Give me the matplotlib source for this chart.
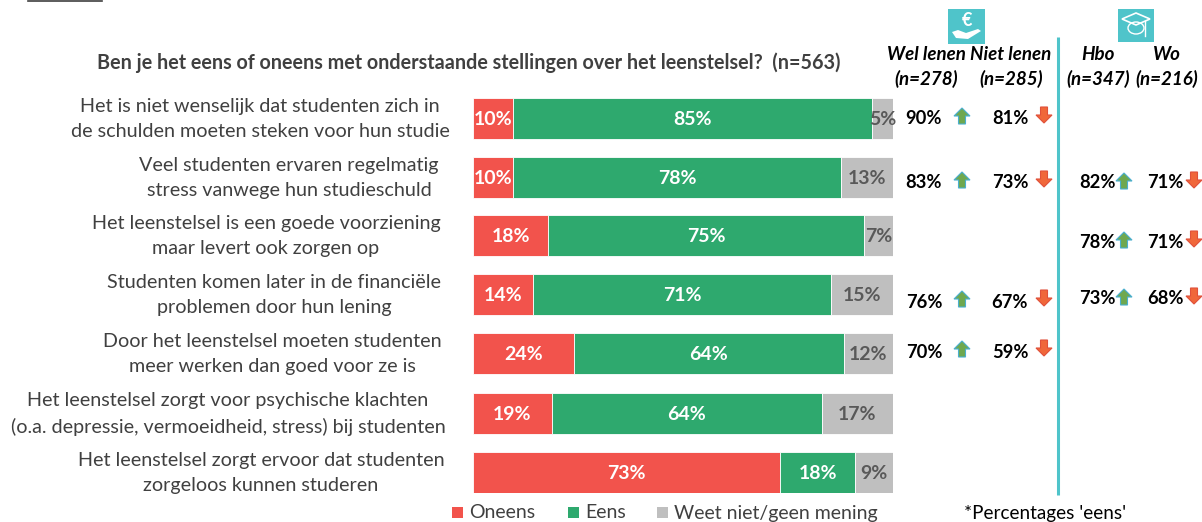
import numpy as np
import matplotlib
matplotlib.use("Agg")
import matplotlib.pyplot as plt
from matplotlib.patches import Polygon, Rectangle, Ellipse

plt.rcParams['font.family'] = ['Lato', 'DejaVu Sans']

# DATA
statements = [
    "Het is niet wenselijk dat studenten zich in\nde schulden moeten steken voor hun studie",
    "Veel studenten ervaren regelmatig\nstress vanwege hun studieschuld",
    "Het leenstelsel is een goede voorziening\nmaar levert ook zorgen op",
    "Studenten komen later in de financiële\nproblemen door hun lening",
    "Door het leenstelsel moeten studenten\nmeer werken dan goed voor ze is",
    "Het leenstelsel zorgt voor psychische klachten\n(o.a. depressie, vermoeidheid, stress) bij studenten",
    "Het leenstelsel zorgt ervoor dat studenten\nzorgeloos kunnen studeren",
]
oneens = [9.6, 9.6, 17.9, 14.3, 24.0, 18.8, 73.1]
eens = [85.4, 77.9, 75.2, 70.9, 64.3, 64.3, 17.9]
weet_niet = [5.0, 12.5, 6.9, 14.8, 11.7, 16.9, 9.0]
oneens_labels = ["10%", "10%", "18%", "14%", "24%", "19%", "73%"]
eens_labels = ["85%", "78%", "75%", "71%", "64%", "64%", "18%"]
weet_labels = ["5%", "13%", "7%", "15%", "12%", "17%", "9%"]

wel_lenen = ["90%", "83%", None, "76%", "70%", None, None]
niet_lenen = ["81%", "73%", None, "67%", "59%", None, None]
hbo = [None, "82%", "78%", "73%", None, None, None]
wo = [None, "71%", "71%", "68%", None, None, None]

title = "Ben je het eens of oneens met onderstaande stellingen over het leenstelsel?  (n=563)"
legend_names = ["Oneens", "Eens", "Weet niet/geen mening"]

RED = "#F2534C"
GREEN = "#2EA96E"
GRAY = "#BFBFBF"
TEAL = "#4FC4CA"
TEXT = "#404040"

fig = plt.figure(figsize=(12.02, 5.22), dpi=100)

# overlay in pixel coordinates for everything around the bars
bg = fig.add_axes([0, 0, 1, 1])
bg.set_xlim(0, 1202)
bg.set_ylim(522, 0)
bg.axis("off")

# BARS
row_tops = np.array([98, 157, 215, 274, 333, 393, 452])
label_x = [260, 289, 266, 274, 272, 228, 261]
ax = fig.add_axes([473 / 1202, 1 - 493 / 522, 420 / 1202, 395 / 522])
ax.set_xlim(0, 100)
ax.set_ylim(493, 98)
ax.axis("off")
ys = row_tops + 20.5
ol = np.array(oneens)
el = np.array(eens)
wl = np.array(weet_niet)
ax.barh(ys, ol, height=41, color=RED, edgecolor="white", linewidth=0.6)
ax.barh(ys, el, left=ol, height=41, color=GREEN, edgecolor="white", linewidth=0.6)
ax.barh(ys, wl, left=ol + el, height=41, color=GRAY, edgecolor="white", linewidth=0.6)

for i, y in enumerate(ys):
    ax.text(ol[i] / 2, y + 1, oneens_labels[i], color="white", fontsize=14, fontweight="bold", ha="center", va="center")
    ax.text(ol[i] + el[i] / 2, y + 1, eens_labels[i], color="white", fontsize=14, fontweight="bold", ha="center", va="center")
    ax.text(ol[i] + el[i] + wl[i] / 2, y + 1, weet_labels[i], color="#595959", fontsize=14, fontweight="bold", ha="center", va="center", clip_on=False)
    bg.text(label_x[i], y + 0.5, statements[i], color=TEXT, fontsize=14.2, ha="center", va="center", linespacing=1.6)


def arrow(cx, cy, up, color, edge):
    # block arrow, about 16 px wide and 16 px tall
    d = -1 if up else 1
    pts = [(cx - 3.5, cy - d * 8), (cx + 3.5, cy - d * 8), (cx + 3.5, cy), (cx + 8, cy),
           (cx, cy + d * 8), (cx - 8, cy), (cx - 3.5, cy)]
    bg.add_patch(Polygon(pts, closed=True, facecolor=color, edgecolor=edge, linewidth=0.8))


# SUBGROUP PERCENTAGES
wel_y = [119, 183, 0, 302, 352, 0, 0]
hbo_y = [0, 183, 242, 299, 0, 0, 0]
for i in range(7):
    if wel_lenen[i]:
        bg.text(924, wel_y[i], wel_lenen[i], fontsize=13.2, fontweight="bold", color="black", ha="center", va="center")
        arrow(962, wel_y[i] - 3, True, "#6FA84F", "#4AAFD0")
        bg.text(1010, wel_y[i], niet_lenen[i], fontsize=13.2, fontweight="bold", color="black", ha="center", va="center")
        arrow(1044, wel_y[i] - 4, False, "#F0673A", "#E0503A")
    if hbo[i]:
        bg.text(1097, hbo_y[i], hbo[i], fontsize=13.2, fontweight="bold", color="black", ha="center", va="center")
        arrow(1124, hbo_y[i] - 2, True, "#6FA84F", "#4AAFD0")
        bg.text(1165, hbo_y[i], wo[i], fontsize=13.2, fontweight="bold", color="black", ha="center", va="center")
        arrow(1194, hbo_y[i] - 3, False, "#F0673A", "#E0503A")

# HEADERS
bg.text(468.5, 63, title, fontsize=14.2, fontweight="bold", color=TEXT, ha="center", va="center")
headers = [(926, "Wel lenen\n(n=278)"), (1011, "Niet lenen\n(n=285)"), (1098, "Hbo\n(n=347)"), (1167, "Wo\n(n=216)")]
for x, h in headers:
    bg.text(x, 67, h, fontsize=13.5, fontweight="bold", style="italic", color="black", ha="center", va="center", linespacing=1.43)

# divider and the little rule at the top left
bg.plot([1058, 1058], [37, 495], color=TEAL, lw=2.2, solid_capstyle="butt")
bg.plot([28, 102], [0.5, 0.5], color="#404040", lw=1.2)

# ICONS
bg.add_patch(Rectangle((948, 9), 37, 35, facecolor=TEAL, edgecolor="none"))
bg.text(967, 21, "€", color="white", fontsize=13, fontweight="bold", ha="center", va="center")
bg.add_patch(Polygon([(952, 32), (958, 30), (966, 33), (978, 29), (981, 31), (968, 39), (956, 38)],
                     closed=True, facecolor="white", edgecolor="none"))
bg.add_patch(Rectangle((1118, 9), 36, 33, facecolor=TEAL, edgecolor="none"))
bg.add_patch(Polygon([(1122, 19), (1136, 13), (1150, 19), (1136, 25)], closed=True, facecolor="none", edgecolor="white", linewidth=1.2))
bg.add_patch(Ellipse((1136, 28), 16, 12, facecolor="none", edgecolor="white", linewidth=1.0))
bg.plot([1145, 1145], [21, 36], color="white", lw=1.0)

# LEGEND
legend_x = [452, 568, 657]
for name, lx, col in zip(legend_names, legend_x, [RED, GREEN, GRAY]):
    bg.add_patch(Rectangle((lx, 507), 11, 11, facecolor=col, edgecolor="none"))
    bg.text(lx + 17, 513, name, fontsize=14, color=TEXT, ha="left", va="center")
bg.text(964, 513, "*Percentages 'eens'", fontsize=13.6, color="black", ha="left", va="center")

fig.savefig("out.png", dpi=100)
